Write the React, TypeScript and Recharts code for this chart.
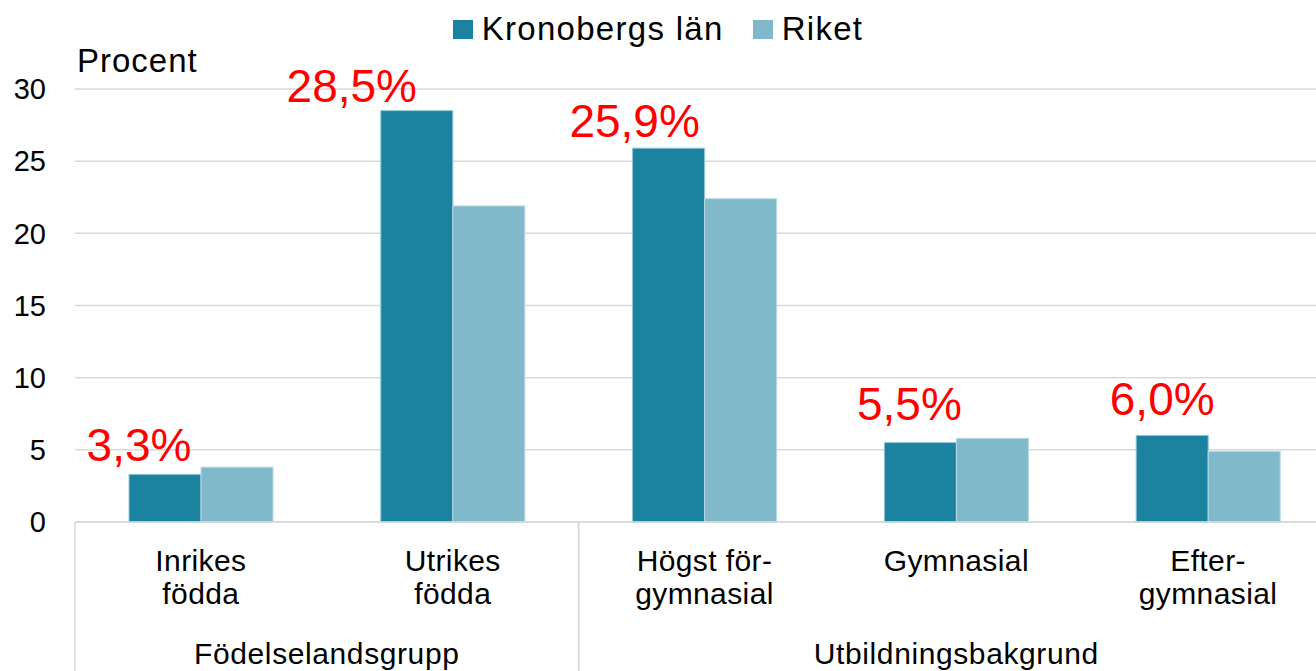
import React from 'react';
import { BarChart, Bar, XAxis, YAxis, CartesianGrid, Legend, LabelList } from 'recharts';

const categories = ['Inrikes födda', 'Utrikes födda', 'Högst för-gymnasial', 'Gymnasial', 'Efter-gymnasial'];
const categoryLines = [['Inrikes', 'födda'], ['Utrikes', 'födda'], ['Högst för-', 'gymnasial'], ['Gymnasial'], ['Efter-', 'gymnasial']];
const kronoberg = [3.3, 28.5, 25.9, 5.5, 6.0];
const riket = [3.8, 21.9, 22.4, 5.8, 4.9];
const yTicks = [0, 5, 10, 15, 20, 25, 30];
const groups = [
  { label: 'Födelselandsgrupp', start: 0, count: 2 },
  { label: 'Utbildningsbakgrund', start: 2, count: 3 },
];
const seriesNames = ['Kronobergs län', 'Riket'];

const COLORS = ['#1B82A0', '#80B9CA'];
const GRID = '#D9D9D9';
const FONT = '"Liberation Sans", Arial, sans-serif';

// label nudges (relative to bar top-centre), style only
const labelDx = [-26, -65, -34, -11, -10];
const labelDy = [-13, -9, -11, -23, -20];

const data = categories.map((c, i) => ({ name: c, k: kronoberg[i], r: riket[i] }));

const CategoryTick = (props: any) => {
  const { x, y, payload, index } = props;
  const half = payload && payload.offset ? payload.offset : 125.9;
  const lines = categoryLines[index] || [String(payload.value)];
  const els: any[] = [];
  lines.forEach((ln, li) => {
    els.push(
      <text key={'t' + li} x={x} y={y + 49 + li * 33} textAnchor="middle" fontSize={30} fill="#000" fontFamily={FONT} letterSpacing={0.4}>
        {ln}
      </text>
    );
  });
  groups.forEach((g, gi) => {
    if (g.start === index) {
      els.push(<line key={'l' + gi} x1={x - half} x2={x - half} y1={y} y2={y + 160} stroke={GRID} strokeWidth={1.5} />);
      const cx = x - half + g.count * half;
      els.push(
        <text key={'g' + gi} x={cx} y={y + 142} textAnchor="middle" fontSize={30} fill="#000" fontFamily={FONT} letterSpacing={0.6}>
          {g.label}
        </text>
      );
    }
    if (g.start + g.count - 1 === index) {
      els.push(<line key={'r' + gi} x1={x + half} x2={x + half} y1={y} y2={y + 160} stroke={GRID} strokeWidth={1.5} />);
    }
  });
  return <g>{els}</g>;
};

const ValueLabel = (props: any) => {
  const { x, y, width, value, index } = props;
  const txt = Number(value).toFixed(1).replace('.', ',') + '%';
  return (
    <text
      x={x + width / 2 + (labelDx[index] || 0)}
      y={y + (labelDy[index] || 0)}
      textAnchor="middle"
      fontSize={46}
      fill="#FF0000"
      fontFamily={FONT}
    >
      {txt}
    </text>
  );
};

const LegendContent = () => (
  <div
    style={{
      display: 'flex',
      justifyContent: 'center',
      alignItems: 'center',
      width: 1316,
      height: 31,
      fontFamily: FONT,
      fontSize: 33,
      lineHeight: '31px',
      color: '#000',
    }}
  >
    {seriesNames.map((n, i) => (
      <div key={n} style={{ display: 'flex', alignItems: 'center', marginRight: i === 0 ? 29 : 0 }}>
        <div style={{ width: 20, height: 19, background: COLORS[i], marginRight: 9, marginTop: 2 }} />
        <span style={{ letterSpacing: 1.3 }}>{n}</span>
      </div>
    ))}
  </div>
);

export default function App() {
  return (
    <div style={{ position: 'absolute', left: 0, top: 0, width: 1316, height: 671, overflow: 'hidden', background: '#fff' }}>
      <div
        style={{
          position: 'absolute',
          left: 77,
          top: 44,
          fontFamily: FONT,
          fontSize: 33,
          lineHeight: '33px',
          letterSpacing: 1,
          color: '#000',
          zIndex: 2,
        }}
      >
        Procent
      </div>
      <BarChart
        width={1340}
        height={671}
        data={data}
        margin={{ top: 89, right: 6, bottom: 0, left: 0 }}
        barGap={0}
        barSize={72}
      >
        <CartesianGrid vertical={false} stroke={GRID} strokeWidth={1.5} />
        <XAxis
          dataKey="name"
          height={149}
          interval={0}
          tickLine={false}
          tickSize={0}
          tickMargin={0}
          axisLine={{ stroke: GRID, strokeWidth: 1.5 }}
          tick={<CategoryTick />}
        />
        <YAxis
          width={75}
          domain={[0, 30]}
          ticks={yTicks}
          axisLine={false}
          tickLine={false}
          tickSize={0}
          tickMargin={29}
          tick={{ fontSize: 29, fill: '#000', fontFamily: FONT }}
        />
        <Legend
          verticalAlign="middle"
          align="center"
          layout="horizontal"
          wrapperStyle={{ top: 13, left: 0, width: 1316 }}
          content={<LegendContent />}
        />
        <Bar dataKey="k" name={seriesNames[0]} fill={COLORS[0]} stroke="#8fc4d4" strokeWidth={1} isAnimationActive={false}>
          <LabelList dataKey="k" content={<ValueLabel />} />
        </Bar>
        <Bar dataKey="r" name={seriesNames[1]} fill={COLORS[1]} stroke="#b5dbe6" strokeWidth={1} isAnimationActive={false} />
      </BarChart>
    </div>
  );
}
